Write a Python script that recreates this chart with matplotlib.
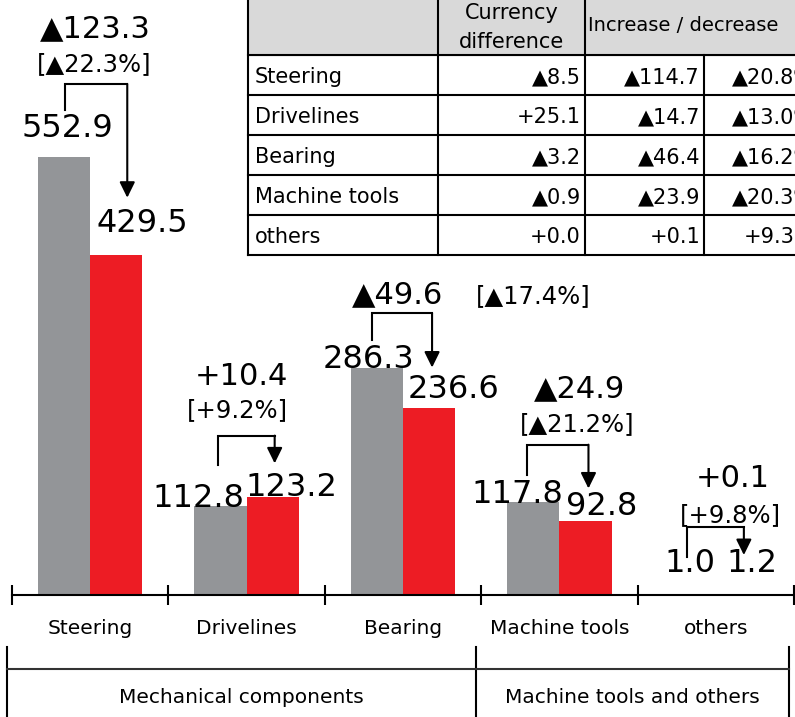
import matplotlib.pyplot as plt
import numpy as np
from matplotlib.patches import Rectangle

plt.rcParams['font.family'] = 'DejaVu Sans'

# bar chart data (prior year / current year)
categories = ["Steering", "Drivelines", "Bearing", "Machine tools", "others"]
prior = [552.9, 112.8, 286.3, 117.8, 1.0]
current = [429.5, 123.2, 236.6, 92.8, 1.2]
change = [-123.3, 10.4, -49.6, -24.9, 0.1]
change_pct = [-22.3, 9.2, -17.4, -21.2, 9.8]

groups = ["Mechanical components", "Machine tools and others"]
group_sizes = [3, 2]

# table data
currency_diff = [-8.5, 25.1, -3.2, -0.9, 0.0]
excl_change = [-114.7, -14.7, -46.4, -23.9, 0.1]
excl_pct = [-20.8, -13.0, -16.2, -20.3, 9.3]

GRAY = "#939598"
RED = "#ed1c24"
W, H = 795, 717


def fmt(v, pct=False):
    s = ("\u25b2" if v < 0 else "+") + f"{abs(v):.1f}"
    return s + "%" if pct else s


fig = plt.figure(figsize=(W / 100, H / 100), dpi=100)
ax = fig.add_axes([12 / W, (H - 595) / H, 782 / W, 595 / H])
ax.patch.set_visible(False)

x = np.arange(len(categories))
bw = 1 / 3
ax.bar(x - bw / 2, prior, bw, color=GRAY)
ax.bar(x + bw / 2, current, bw, color=RED)
ax.set_xlim(-0.5, len(categories) - 0.5)
ax.set_ylim(0, 751)

for s in ["top", "left", "right"]:
    ax.spines[s].set_visible(False)
ax.spines["bottom"].set_linewidth(1.5)
ax.set_yticks([])
ax.set_xticks(np.arange(-0.5, len(categories), 1))
ax.set_xticklabels([])
ax.tick_params(axis="x", direction="inout", length=14, width=1.5)

# overlay in pixel coords (origin top-left)
ov = fig.add_axes([0, 0, 1, 1])
ov.set_xlim(0, W)
ov.set_ylim(H, 0)
ov.axis("off")


def px(xd, yd):
    d = ax.transData.transform((xd, yd))
    return d[0], H - d[1]


# layout offsets in pixels (dx, rise above bar top)
prior_lab = [(3, 20), (-22, -1), (-8, 0), (-16, -1), (0, 22)]
curr_lab = [(26, 23), (19, 1), (24, 10), (16, 6), (10, 22)]
# left dx, start rise, top rise (vs gray top), right dx, tip rise (vs red top)
brackets = [(1, 47, 73, 11, 57), (-3, 41, 70, 2, 34), (-5, 28, 55, 3, 40),
            (-6, 27, 57, 3, 33), (-3, 37, 67, 2, 39)]
# (dx, rise above bracket top) for change and pct texts
chg_pos = [(5, 47), (-5, 51), (-5, 10), (20, 47), (17, 40)]
pct_pos = [(4, 13), (-9, 19), (130, 10), (18, 14), (15, 5)]

for i in range(len(categories)):
    gx, gy = px(x[i] - bw / 2, prior[i])
    rx, ry = px(x[i] + bw / 2, current[i])
    cx, _ = px(x[i], 0)

    ov.text(gx + prior_lab[i][0], gy - prior_lab[i][1], f"{prior[i]:.1f}",
            fontsize=23, ha="center", va="baseline")
    ov.text(rx + curr_lab[i][0], ry - curr_lab[i][1], f"{current[i]:.1f}",
            fontsize=23, ha="center", va="baseline")

    ldx, srise, trise, rdx, tip = brackets[i]
    top = gy - trise
    ov.plot([gx + ldx, gx + ldx, rx + rdx], [gy - srise, top, top],
            color="black", lw=1.5, solid_joinstyle="miter")
    ov.annotate("", xy=(rx + rdx, ry - tip), xytext=(rx + rdx, top),
                arrowprops=dict(arrowstyle="-|>,head_length=0.63,head_width=0.31",
                                mutation_scale=15, lw=1.5, color="black",
                                shrinkA=0, shrinkB=0))

    ov.text(cx + chg_pos[i][0], top - chg_pos[i][1], fmt(change[i]),
            fontsize=22, ha="center", va="baseline")
    ov.text(cx + pct_pos[i][0], top - pct_pos[i][1],
            "[" + fmt(change_pct[i], pct=True) + "]",
            fontsize=17.5, ha="center", va="baseline")

    ov.text(cx, 634, categories[i], fontsize=14.5, ha="center", va="baseline")

# group labels under the axis
edges = np.concatenate([[0], np.cumsum(group_sizes)]) - 0.5
gxs = [px(e, 0)[0] - 5 for e in edges]
for gxv in gxs:
    ov.plot([gxv, gxv], [647, H + 2], color="black", lw=1.5)
ov.plot([gxs[0], gxs[-1]], [669, 669], color="#333333", lw=1.5)
for j, g in enumerate(groups):
    ov.text((gxs[j] + gxs[j + 1]) / 2, 703, g, fontsize=14.5,
            ha="center", va="baseline")

# table top right
col_x = [248, 438, 585, 704, 818]
row_y = [-5, 55, 95, 135, 175, 215, 255]
ov.add_patch(Rectangle((col_x[0], row_y[0]), col_x[-1] - col_x[0],
                       row_y[1] - row_y[0], color="#d9d9d9", zorder=0))
for yv in row_y[1:]:
    ov.plot([col_x[0], col_x[-1]], [yv, yv], color="black", lw=1.5)
for k, xv in enumerate(col_x):
    y0 = row_y[1] if k == 3 else row_y[0]
    ov.plot([xv, xv], [y0, row_y[-1]], color="black", lw=1.5)

ov.text((col_x[1] + col_x[2]) / 2, 19, "Currency", fontsize=15,
        ha="center", va="baseline")
ov.text((col_x[1] + col_x[2]) / 2, 48, "difference", fontsize=15,
        ha="center", va="baseline")
ov.text(col_x[2] + 3, 31, "Increase / decrease", fontsize=14,
        ha="left", va="baseline")

for r, name in enumerate(categories):
    base = row_y[r + 2] - 12
    ov.text(col_x[0] + 7, base, name, fontsize=15, va="baseline")
    ov.text(col_x[2] - 4, base, fmt(currency_diff[r]), fontsize=15,
            ha="right", va="baseline")
    ov.text(col_x[3] - 4, base, fmt(excl_change[r]), fontsize=15,
            ha="right", va="baseline")
    ov.text(col_x[4] - 4, base, fmt(excl_pct[r], pct=True), fontsize=15,
            ha="right", va="baseline")

fig.savefig("out.png", dpi=100)
